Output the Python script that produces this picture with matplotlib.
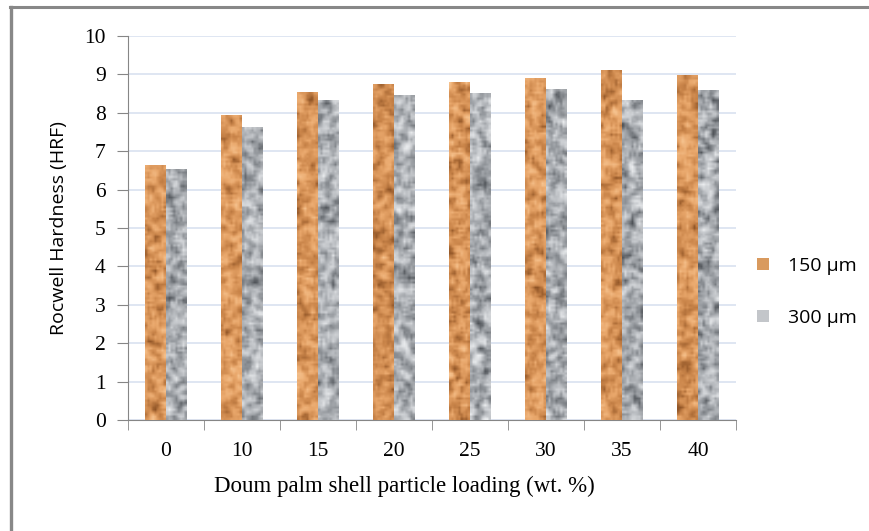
import numpy as np
import matplotlib
matplotlib.use("Agg")
import matplotlib.pyplot as plt
from matplotlib.colors import LinearSegmentedColormap
from matplotlib.patches import Patch

# data
loading = ["0", "10", "15", "20", "25", "30", "35", "40"]
hrf_150 = [6.62, 7.94, 8.54, 8.75, 8.80, 8.90, 9.11, 8.98]
hrf_300 = [6.52, 7.63, 8.33, 8.46, 8.50, 8.62, 8.33, 8.57]
series_names = ["150 μm", "300 μm"]

cmap_150 = LinearSegmentedColormap.from_list("c150", ["#8f5426", "#c98449", "#e9a76b", "#f6c38f"])
cmap_300 = LinearSegmentedColormap.from_list("c300", ["#4f5358", "#8d9196", "#c3c6ca", "#eceef0"])

rng = np.random.default_rng(3)


def texture(nx, ny):
    # smoothed noise, only used as a fill pattern
    a = rng.random((ny + 4, nx + 4))
    k = np.ones(3) / 3
    a = np.apply_along_axis(lambda r: np.convolve(r, k, mode="same"), 1, a)
    a = np.apply_along_axis(lambda c: np.convolve(c, k, mode="same"), 0, a)
    a = a[2:-2, 2:-2]
    return (a - a.min()) / (a.max() - a.min())


fig = plt.figure(figsize=(8.7, 5.31), dpi=100)
ax = fig.add_axes([0.1471, 0.209, 0.699, 0.723])

x = np.arange(len(loading))
w = 0.275
bars1 = ax.bar(x - w / 2, hrf_150, w, color="#d99a5e", zorder=2)
bars2 = ax.bar(x + w / 2, hrf_300, w, color="#b9bcc0", zorder=2)

for bars, cm in [(bars1, cmap_150), (bars2, cmap_300)]:
    for b in bars:
        x0, h, bw = b.get_x(), b.get_height(), b.get_width()
        tex = texture(9, int(h * 17))
        ax.imshow(tex, cmap=cm, extent=(x0, x0 + bw, 0, h), aspect="auto",
                  interpolation="bilinear", zorder=3, vmin=0, vmax=1)

ax.set_xlim(-0.5, len(loading) - 0.5)
ax.set_ylim(0, 10)
ax.set_yticks(range(0, 11))

ax.grid(axis="y", color="#d9e2f0", linewidth=1.2, zorder=0)
ax.set_axisbelow(True)
for s in ["top", "right"]:
    ax.spines[s].set_visible(False)
for s in ["left", "bottom"]:
    ax.spines[s].set_color("#868686")

ax.set_xticks(x)
ax.set_xticklabels(loading)
ax.set_xticks(np.arange(-0.5, len(loading)), minor=True)
ax.tick_params(axis="x", which="major", length=0, pad=16)
ax.tick_params(axis="x", which="minor", length=7, color="#868686")
ax.tick_params(axis="y", length=8, color="#868686", pad=8)
for lab in ax.get_xticklabels() + ax.get_yticklabels():
    lab.set_fontfamily("Liberation Serif")
    lab.set_fontsize(15.5)

ax.set_xlabel("Doum palm shell particle loading (wt. %)", fontfamily="Liberation Serif",
              fontsize=16.5, labelpad=8)
ax.xaxis.set_label_coords(0.455, -0.145)
ax.set_ylabel("Rocwell Hardness (HRF)", fontfamily="Open Sans", fontsize=14, labelpad=12)

handles = [Patch(facecolor="#d99a5e"), Patch(facecolor="#c3c6ca")]
fig.legend(handles, series_names, loc="center left", bbox_to_anchor=(0.85, 0.45),
           frameon=False, prop={"family": "Open Sans", "size": 14},
           handlelength=0.6, handleheight=0.6, handletextpad=1.0, labelspacing=1.75)

# gray border on top and left
fig.add_artist(plt.Line2D([0.0118, 1.0], [0.986, 0.986], color="#888888", linewidth=2.2,
                          transform=fig.transFigure))
fig.add_artist(plt.Line2D([0.0121, 0.0121], [0.0, 0.987], color="#888888", linewidth=2.4,
                          transform=fig.transFigure))

fig.savefig("out.png", dpi=100)
